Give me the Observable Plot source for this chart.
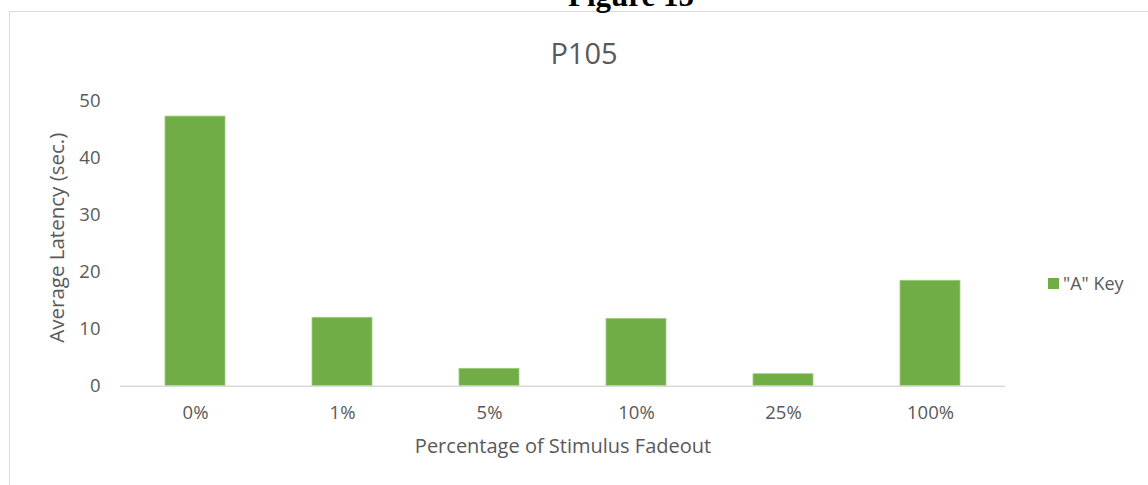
<!DOCTYPE html>
<html>
<head>
<meta charset="utf-8">
<script src="https://cdn.jsdelivr.net/npm/d3@7"></script>
<script src="https://cdn.jsdelivr.net/npm/@observablehq/plot@0.6"></script>
<style>
  html, body { margin: 0; padding: 0; background: #fff; width: 1148px; height: 485px; overflow: hidden; }
  #wrap { position: relative; width: 1148px; height: 485px; font-family: "Open Sans", sans-serif; }
  #frame { position: absolute; left: 8.5px; top: 11px; width: 1160px; height: 500px; border: 1.6px solid #d9d9d9; box-sizing: border-box; }
  #fig { position: absolute; left: 0; width: 1262px; top: -20px; text-align: center; font-family: "Liberation Serif", "Times New Roman", serif; font-weight: bold; font-size: 31px; color: #000; line-height: 31px; }
  #title { position: absolute; left: 484px; width: 200px; top: 34px; text-align: center; font-size: 29px; color: #595959; line-height: 38px; }
  #legend { position: absolute; left: 1048px; top: 270px; font-size: 18px; color: #595959; display: flex; align-items: center; gap: 4px; white-space: nowrap; line-height: 26px; }
  #legend .sw { width: 11px; height: 11px; background: #70ad47; display: inline-block; }
  #chart { position: absolute; left: 0; top: 0; }
</style>
</head>
<body>
<div id="wrap">
  <div id="frame"></div>
  <div id="fig">Figure 15</div>
  <div id="chart"></div>
  <div id="title">P105</div>
</div>
<script>
const categories = ["0%", "1%", "5%", "10%", "25%", "100%"];
const values = [47.3, 12.0, 3.05, 11.8, 2.1, 18.5];
const seriesName = "\"A\" Key";
const yTicks = [0, 10, 20, 30, 40, 50];

const data = categories.map((c, i) => ({category: c, value: values[i]}));

const chart = Plot.plot({
  width: 1148,
  height: 485,
  marginLeft: 120,
  marginRight: 143,
  marginTop: 100.7,
  marginBottom: 99.3,
  style: {fontFamily: "'Open Sans', sans-serif", color: "#595959", background: "transparent", overflow: "visible"},
  x: {domain: categories, paddingInner: 0.593, paddingOuter: 0.2965, align: 0.5, label: null},
  y: {domain: [0, 50], label: null},
  marks: [
    Plot.barY(data, {x: "category", y: "value", fill: "#70ad47", stroke: "#9fcc80", strokeWidth: 0.8}),
    Plot.ruleY([0], {stroke: "#d9d9d9", strokeWidth: 1.6}),
    Plot.axisY(yTicks, {tickSize: 0, tickPadding: 20, fontSize: 18.5, label: null, fill: "#595959"}),
    Plot.axisX({tickSize: 0, tickPadding: 20, fontSize: 18.5, label: null, fill: "#595959"}),
    Plot.text(["Average Latency (sec.)"], {frameAnchor: "left", dx: -63, dy: -6, rotate: -90, fontSize: 20.5, fill: "#595959", textAnchor: "middle", lineAnchor: "middle"}),
    Plot.text(["Percentage of Stimulus Fadeout"], {frameAnchor: "bottom", dy: 60, fontSize: 20, fill: "#595959", textAnchor: "middle", lineAnchor: "middle"})
  ]
});
document.getElementById("chart").appendChild(chart);

const legend = document.createElement("div");
legend.id = "legend";
legend.innerHTML = '<span class="sw"></span><span></span>';
legend.lastChild.textContent = seriesName;
document.getElementById("wrap").appendChild(legend);
</script>
</body>
</html>
